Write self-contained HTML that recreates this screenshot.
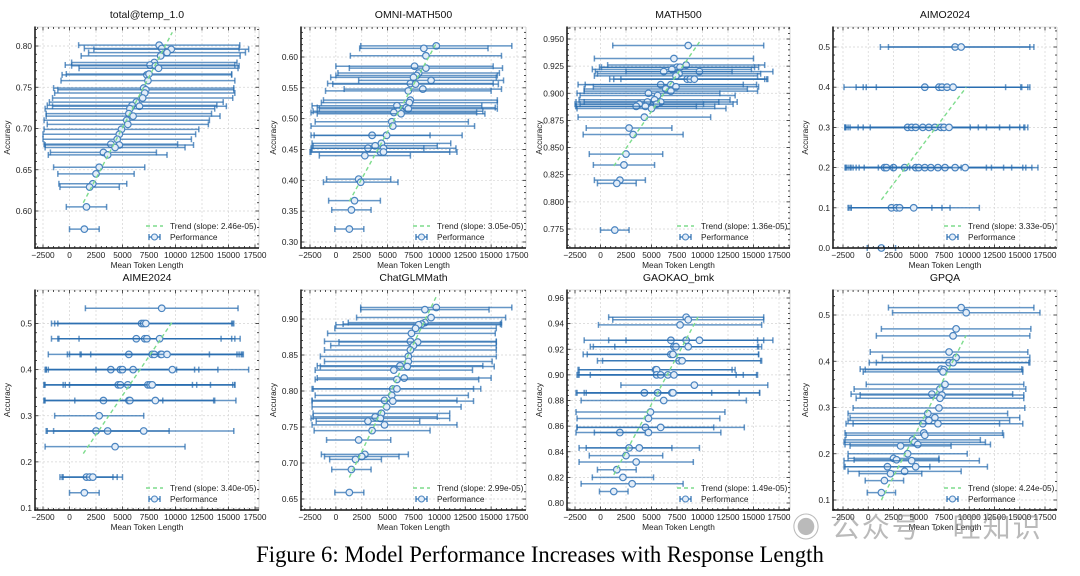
<!DOCTYPE html>
<html><head><meta charset="utf-8"><style>
body{margin:0;background:#fff;width:1080px;height:576px;overflow:hidden}
svg{display:block;font-family:"Liberation Sans",sans-serif}
.cap{position:absolute;left:0;top:542px;width:1080px;text-align:center;font-family:"Liberation Serif",serif;font-size:22.7px;color:#000}
.wm{position:absolute;left:792px;top:506px;font-family:"Liberation Sans","Noto Sans CJK SC",sans-serif;font-size:28px;color:rgba(140,140,140,0.6);letter-spacing:2px}
</style></head><body>
<svg id="fig" width="1080" height="576" viewBox="0 0 1080 576"></svg>
<div class="wm">◉ 公众号 · 旺知识</div>
<div class="cap">Figure 6: Model Performance Increases with Response Length</div>
<script>
const titles = ["total@temp_1.0","OMNI-MATH500","MATH500","AIMO2024","AIME2024","ChatGLMMath","GAOKAO_bmk","GPQA"];
const slopes = [2.46e-5,3.05e-5,1.36e-5,3.33e-5,3.40e-5,2.99e-5,1.49e-5,4.24e-5];
const slopeLabels = ["2.46e-05","3.05e-05","1.36e-05","3.33e-05","3.40e-05","2.99e-05","1.49e-05","4.24e-05"];
const trendStartY = [0.61,0.366,0.833,0.12,0.218,0.68,0.822,0.10];
const trendX = [1300,9700];
const xTicks = [-2500,0,2500,5000,7500,10000,12500,15000,17500];
const xTickLabels = ["\u22122500","0","2500","5000","7500","10000","12500","15000","17500"];
const yTicks = [
 [0.60,0.65,0.70,0.75,0.80],[0.30,0.35,0.40,0.45,0.50,0.55,0.60],
 [0.775,0.800,0.825,0.850,0.875,0.900,0.925,0.950],[0.0,0.1,0.2,0.3,0.4,0.5],
 [0.1,0.2,0.3,0.4,0.5],[0.65,0.70,0.75,0.80,0.85,0.90],
 [0.80,0.82,0.84,0.86,0.88,0.90,0.92,0.94,0.96],[0.1,0.2,0.3,0.4,0.5]];
const yDecimals = [2,2,3,1,1,2,2,1];

const means1=[8460,8700,9600,9200,8600,8000,7600,8100,8400,7300,7500,7400,7000,7200,7100,6900,6300,5900,6600,5700,5600,6000,5400,5500,4900,4700,4500,3900,4700,4300,3200,3600,2800,2500,2200,1900,1600,1400];
const acc1=[0.801,0.797,0.796,0.792,0.788,0.780,0.777,0.776,0.773,0.765,0.766,0.758,0.749,0.747,0.743,0.737,0.732,0.728,0.727,0.724,0.718,0.715,0.710,0.705,0.699,0.693,0.687,0.681,0.680,0.677,0.671,0.668,0.653,0.645,0.633,0.629,0.605,0.578];
const std1=[7600,7300,7300,7400,7500,7800,8000,7900,7500,8000,7800,8200,8500,8300,8500,8500,8200,8000,8200,8000,7800,8200,7800,7600,7300,7200,7000,6300,7000,6600,5000,5600,4300,3600,3200,2800,1900,1400];

const means2=[9700,8500,8700,7600,8700,8000,7800,7500,9200,7200,7700,8400,7000,7200,7100,5900,6800,7000,6000,5600,6300,5400,5500,3500,4900,4400,3800,3100,4600,4300,4600,2800,2200,2400,1800,1500,1300];
const acc2=[0.618,0.614,0.602,0.585,0.582,0.574,0.570,0.567,0.562,0.557,0.556,0.548,0.545,0.530,0.526,0.521,0.518,0.516,0.512,0.510,0.508,0.495,0.488,0.473,0.473,0.460,0.456,0.452,0.452,0.446,0.446,0.440,0.402,0.397,0.367,0.352,0.321];
const std2=[7300,6200,7300,7600,7400,7800,7800,8000,7000,8000,8000,7600,8000,8400,8500,8200,8600,8600,8200,8000,8100,7400,7900,5600,7300,6700,6000,5400,7000,6700,7100,4400,3100,3600,2500,1900,1400];

const means3=[8600,7200,8400,7500,7800,7000,9700,6200,7700,7400,8500,8800,9200,5900,6900,7400,6400,6900,4700,5600,5300,4600,5900,5500,3800,3500,4400,5000,4300,2800,3200,2500,2300,1900,1600,1400];
const acc3=[0.944,0.932,0.926,0.924,0.924,0.922,0.920,0.920,0.918,0.916,0.913,0.913,0.913,0.908,0.908,0.906,0.904,0.902,0.900,0.898,0.894,0.892,0.892,0.890,0.890,0.888,0.888,0.886,0.878,0.868,0.862,0.844,0.834,0.820,0.817,0.774];
const std3=[7400,7800,7700,7600,7700,7800,7200,6700,8000,8000,7600,7500,7200,8100,8400,8100,8000,8500,7000,7600,7400,7000,7500,7500,6300,5900,6800,7300,6500,4200,4900,3600,3000,2500,1900,1400];

const means4=[8600,9200,5600,7000,7300,7800,8400,3900,4300,4700,5400,6000,6600,7200,7500,8000,1600,1800,2500,3600,4700,5000,5600,6200,6900,7600,8600,9600,2300,2800,3100,4500,1300];
const acc4=[0.5,0.5,0.4,0.4,0.4,0.4,0.4,0.3,0.3,0.3,0.3,0.3,0.3,0.3,0.3,0.3,0.2,0.2,0.2,0.2,0.2,0.2,0.2,0.2,0.2,0.2,0.2,0.2,0.1,0.1,0.1,0.1,0.0];
const std4=[7400,7200,8000,8200,7800,8000,7600,6200,6600,7000,7600,8000,8400,8200,8000,7800,2500,3000,4200,5600,7000,7200,7800,8000,8400,8000,7600,7200,4000,4500,5000,6500,1400];

const means5=[8700,6800,7000,7200,6300,7100,7300,8500,5600,7800,8000,8600,8700,9200,3900,4800,5000,6000,9700,4600,4800,5500,7400,7600,7800,3200,5600,5700,8100,2800,2500,3600,7000,4300,1600,1900,2200,1400];
const acc5=[0.533,0.5,0.5,0.5,0.467,0.467,0.467,0.467,0.433,0.433,0.433,0.433,0.433,0.433,0.4,0.4,0.4,0.4,0.4,0.367,0.367,0.367,0.367,0.367,0.367,0.333,0.333,0.333,0.333,0.3,0.267,0.267,0.267,0.233,0.167,0.167,0.167,0.133];
const std5=[7200,8500,8400,8300,8000,8200,8300,7600,7600,8000,8000,7600,7600,7200,6200,7000,7200,8000,7200,7000,7200,7800,8000,8000,7800,5600,8000,8000,7600,4200,4600,5800,8500,6600,2500,2600,2800,1400];

const means6=[9700,8600,9200,8600,8300,8000,7700,7300,7200,7900,7500,7200,7000,7000,6200,6900,5600,6600,5900,5500,5900,5400,4700,5500,4900,4400,3800,4300,3100,4700,3500,2200,2800,2500,1900,1500,1300];
const acc6=[0.916,0.913,0.902,0.895,0.893,0.892,0.887,0.880,0.869,0.868,0.863,0.857,0.848,0.841,0.835,0.834,0.829,0.818,0.816,0.803,0.803,0.794,0.787,0.786,0.778,0.769,0.764,0.762,0.758,0.753,0.745,0.732,0.712,0.709,0.705,0.691,0.659];
const std6=[7300,6200,7200,7400,7600,8000,7800,8100,8300,7600,8000,8300,8500,8100,8000,8400,7600,8400,7900,7800,8100,7400,7000,7800,7200,6600,6000,6700,5000,7000,5600,3100,4200,3600,2500,1900,1400];

const means7=[8400,8600,7800,6900,8400,9700,7200,7400,8600,6900,7100,7700,8000,5400,5500,5500,5900,6600,7200,9200,4300,5600,7000,7100,6200,4900,4700,4400,5900,1900,4700,2800,3800,2500,3500,1600,2200,3100,1300];
const acc7=[0.945,0.943,0.939,0.927,0.927,0.927,0.922,0.922,0.922,0.916,0.916,0.911,0.911,0.904,0.904,0.900,0.900,0.900,0.900,0.892,0.886,0.886,0.886,0.886,0.880,0.871,0.866,0.859,0.859,0.855,0.855,0.843,0.843,0.837,0.832,0.826,0.820,0.815,0.809];
const std7=[7600,7400,8000,8500,7600,7200,8200,8100,7200,8600,8400,8000,7800,7500,7700,7800,8100,8700,8200,7200,6600,8000,8600,8500,8100,7300,7000,6700,8200,2500,7100,4200,5900,3600,5600,1900,3000,5000,1400];

const means8=[9200,9700,8700,8400,8000,8700,8000,8400,7200,7500,7400,7600,7100,6300,7300,7100,7000,5900,6600,6000,5400,6900,5500,5600,4400,4600,4900,3200,3900,2500,2800,4300,1900,4700,3600,2200,1600,1300];
const acc8=[0.516,0.505,0.470,0.455,0.420,0.408,0.397,0.397,0.383,0.382,0.377,0.350,0.340,0.329,0.327,0.320,0.299,0.287,0.278,0.272,0.265,0.265,0.245,0.240,0.230,0.225,0.220,0.217,0.200,0.190,0.187,0.185,0.172,0.172,0.162,0.157,0.142,0.116];
const std8=[7200,7300,7400,7600,7800,7300,7900,7600,8000,7800,7900,7800,8500,8000,8100,8300,8500,7900,8400,8000,7600,8400,7800,7800,6700,7000,7200,5000,5900,4500,4200,6700,4200,7100,5600,3100,1900,1400];

const allMeans=[means1,means2,means3,means4,means5,means6,means7,means8];
const allAcc=[acc1,acc2,acc3,acc4,acc5,acc6,acc7,acc8];
const allStd=[std1,std2,std3,std4,std5,std6,std7,std8];

const colL=[35,301,567,833], colR=[259,526,790,1057];
const rowT=[27,290], rowB=[248,510];
const xCal=[[43,255],[310,517],[575,779],[843,1045]];
const yCal=[[0.80,46,0.60,211],[0.60,57,0.30,242],[0.950,39,0.775,229],[0.5,47,0.0,248],
            [0.5,323.5,0.1,508],[0.90,319,0.65,499],[0.96,298,0.80,503],[0.5,315,0.1,500]];

const NS="http://www.w3.org/2000/svg";
const svg=document.getElementById('fig');
function mk(tag,attrs,parent){const e=document.createElementNS(NS,tag);for(const k in attrs)e.setAttribute(k,attrs[k]);(parent||svg).appendChild(e);return e;}

for(let p=0;p<8;p++){
  const c=p%4, r=Math.floor(p/4);
  const L=colL[c],R=colR[c],T=rowT[r],B=rowB[r];
  const xs=v=>xCal[c][0]+(v+2500)*(xCal[c][1]-xCal[c][0])/20000;
  const yc=yCal[p];
  const ys=v=>yc[1]+(v-yc[0])*(yc[3]-yc[1])/(yc[2]-yc[0]);
  const g=mk('g',{});
  
  
  xTicks.forEach(v=>{const x=xs(v);const l=mk('line',{x1:x,x2:x,y1:T,y2:B,stroke:'#d4d4d4','stroke-width':0.7,'stroke-dasharray':'2,2'},g);});
  yTicks[p].forEach(v=>{const y=ys(v);const l=mk('line',{x1:L,x2:R,y1:y,y2:y,stroke:'#d4d4d4','stroke-width':0.7,'stroke-dasharray':'2,2'},g);});
  const m=allMeans[p],a=allAcc[p],s=allStd[p];
  for(let i=0;i<m.length;i++){
    const y=ys(a[i]),x0=xs(m[i]-s[i]),x1=xs(m[i]+s[i]),xc=xs(m[i]);
    const eb=mk('g',{stroke:'#2a6db0','stroke-opacity':0.72,'stroke-width':1.5},g);
    
    
    mk('line',{x1:x0,x2:x1,y1:y,y2:y},eb);
    mk('line',{x1:x0,x2:x0,y1:y-3,y2:y+3},eb);
    mk('line',{x1:x1,x2:x1,y1:y-3,y2:y+3},eb);
    const pt=mk('circle',{cx:xc,cy:y,r:3.3,fill:'#e3edf8',stroke:'#4a84c0','stroke-width':1.2},g);
    
    
  }
  const tl=mk('line',{x1:xs(trendX[0]),y1:ys(trendStartY[p]),x2:xs(trendX[1]),y2:ys(trendStartY[p]+slopes[p]*(trendX[1]-trendX[0])),stroke:'#7ddc8c','stroke-width':1.4,'stroke-dasharray':'4,3'},g);
  
  
  const fr=mk('g',{},g);
  
  
  mk('line',{x1:L,x2:R,y1:T,y2:T,stroke:'#bbb','stroke-width':0.6},fr);
  mk('line',{x1:R,x2:R,y1:T,y2:B,stroke:'#bbb','stroke-width':0.6},fr);
  mk('line',{x1:L,x2:L,y1:T-0.5,y2:B+0.7,stroke:'#111','stroke-width':1.5},fr);
  mk('line',{x1:L-0.7,x2:R,y1:B,y2:B,stroke:'#111','stroke-width':1.5},fr);
  for(let v=-3000;v<=18500;v+=500){const x=xs(v);if(x<L||x>R)continue;const major=v%2500===0;const len=major?3.5:2;
    mk('line',{x1:x,x2:x,y1:B,y2:B-len,stroke:'#222','stroke-width':0.8},g);mk('line',{x1:x,x2:x,y1:T,y2:T+len,stroke:'#222','stroke-width':0.8},g);}
  const yt=yTicks[p],st=(yt[1]-yt[0])/5;
  for(let k=-10;k<=(yt.length-1)*5+10;k++){const v=yt[0]+k*st;const y=ys(v);if(y<T||y>B)continue;const len=k%5===0?3.5:2;
    mk('line',{x1:L,x2:L+len,y1:y,y2:y,stroke:'#222','stroke-width':0.8},g);mk('line',{x1:R,x2:R-len,y1:y,y2:y,stroke:'#222','stroke-width':0.8},g);}
  xTicks.forEach((v,i)=>{const t=mk('text',{x:xs(v),y:B+10,'font-size':8.3,'text-anchor':'middle',fill:'#222'},g);t.textContent=xTickLabels[i];});
  yt.forEach(v=>{const t=mk('text',{x:L-3,y:ys(v)+3,'font-size':8.3,'text-anchor':'end',fill:'#222'},g);t.textContent=v.toFixed(yDecimals[p]);});
  const tt=mk('text',{x:(L+R)/2,y:T-9,'font-size':10.5,'text-anchor':'middle',fill:'#111'},g);tt.textContent=titles[p];
  
  const xl=mk('text',{x:(L+R)/2,y:B+20,'font-size':8.3,'text-anchor':'middle',fill:'#222'},g);xl.textContent='Mean Token Length';
  
  const yx=L-25,yy=(T+B)/2;
  const yl=mk('text',{x:yx,y:yy,'font-size':8.3,'text-anchor':'middle',fill:'#222',transform:`rotate(-90 ${yx} ${yy})`},g);yl.textContent='Accuracy';
  
  const lg=mk('g',{},g);
  
  
  const lx=R-113,ly1=B-22,ly2=B-11;
  mk('line',{x1:lx,x2:lx+17,y1:ly1,y2:ly1,stroke:'#7ddc8c','stroke-width':1.4,'stroke-dasharray':'4,3'},lg);
  const t1=mk('text',{x:lx+24,y:ly1+3,'font-size':8.3,fill:'#222'},lg);t1.textContent='Trend (slope: '+slopeLabels[p]+')';
  
  mk('line',{x1:lx+3,x2:lx+14,y1:ly2,y2:ly2,stroke:'#2a6db0','stroke-width':1.2},lg);
  mk('line',{x1:lx+3,x2:lx+3,y1:ly2-3,y2:ly2+3,stroke:'#2a6db0','stroke-width':1.2},lg);
  mk('line',{x1:lx+14,x2:lx+14,y1:ly2-3,y2:ly2+3,stroke:'#2a6db0','stroke-width':1.2},lg);
  mk('circle',{cx:lx+8.5,cy:ly2,r:3,fill:'#e3edf8',stroke:'#4a84c0','stroke-width':1.1},lg);
  const t2=mk('text',{x:lx+24,y:ly2+3,'font-size':8.3,fill:'#222'},lg);t2.textContent='Performance';
  
}
</script>
</body></html>
